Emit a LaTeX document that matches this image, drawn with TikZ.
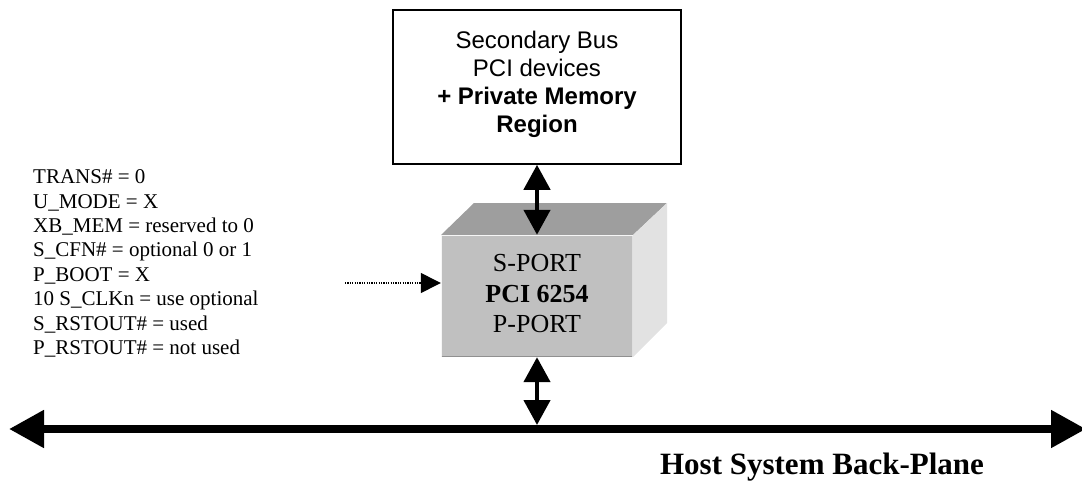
\documentclass[tikz,border=0pt]{standalone}
\usepackage{fontspec}
\setmainfont{Liberation Serif}
\newfontfamily\arialfont{Liberation Sans}
\usetikzlibrary{arrows.meta}
\definecolor{topface}{HTML}{9E9E9E}
\definecolor{frontface}{HTML}{C0C0C0}
\definecolor{sideface}{HTML}{E2E2E2}
\tikzset{
  boxnode/.style={draw=black, line width=1.6pt, fill=white, inner sep=0pt},
  dbl/.style={line width=4.5pt, {Triangle[length=25pt,width=26pt]}-{Triangle[length=25pt,width=26pt]}},
  busline/.style={line width=8pt, {Triangle[length=35pt,width=36pt]}-{Triangle[length=35pt,width=36pt]}},
  dotarrow/.style={line width=1.3pt, dash pattern=on 1.2pt off 1.2pt, -{Triangle[length=20pt,width=20pt]}},
  legend/.style={font=\fontsize{21}{24.4}\selectfont, align=left, inner sep=0pt, anchor=north west},
  chiptext/.style={font=\fontsize{26}{30.5}\selectfont, align=center, inner sep=0pt},
  toptext/.style={font=\arialfont\fontsize{24}{28}\selectfont, align=center, inner sep=0pt},
}
\begin{document}
\begin{tikzpicture}[x=1pt,y=-1pt]
\useasboundingbox (0,0) rectangle (1082,487);
% top box
\node[boxnode, minimum width=288pt, minimum height=154pt] (top) at (537,87) {};
\node[toptext] (toptxt) at (537,84) {Secondary Bus\\PCI devices\\\textbf{+ Private Memory}\\\textbf{Region}};
% cube
\fill[topface] (441,235) -- (474,203) -- (667,203) -- (633,235) -- cycle;
\fill[sideface] (633,235) -- (667,203) -- (667,323) -- (633,357) -- cycle;
\node[fill=frontface, minimum width=192pt, minimum height=122pt, inner sep=0pt] (chip) at (537,296) {};
\draw[white!85!frontface, line width=1pt] (441.5,356.5) -- (441.5,235.5) -- (632.5,235.5);
\draw[black!25!frontface, line width=1pt] (441.5,356.5) -- (632.5,356.5);
\draw[white!50!frontface, line width=1pt] (632.5,235.5) -- (632.5,356.5);
\node[chiptext] (chiptxt) at (537,294) {S-PORT\\\textbf{PCI 6254}\\P-PORT};
% bus
\coordinate (busL) at (9,429);
\coordinate (busR) at (1086,429);
\coordinate (busT) at (537,425);
\draw[busline] (busL) -- (busR);
% vertical arrows
\draw[dbl] (top.south) -- (chip.north);
\draw[dbl] (chip.south) -- (busT);
% legend
\node[legend] (legend) at (33,169.5) {TRANS\# = 0\\U\_MODE = X\\XB\_MEM = reserved to 0\\S\_CFN\# = optional 0 or 1\\P\_BOOT = X\\10 S\_CLKn = use optional\\S\_RSTOUT\# = used\\P\_RSTOUT\# = not used};
\coordinate (dotstart) at (345,283);
\draw[dotarrow] (dotstart) -- (chip.west |- dotstart);
% label
\node[font=\bfseries\fontsize{31}{34}\selectfont, inner sep=0pt] (host) at (822,467) {Host System Back-Plane};
\end{tikzpicture}
\end{document}
